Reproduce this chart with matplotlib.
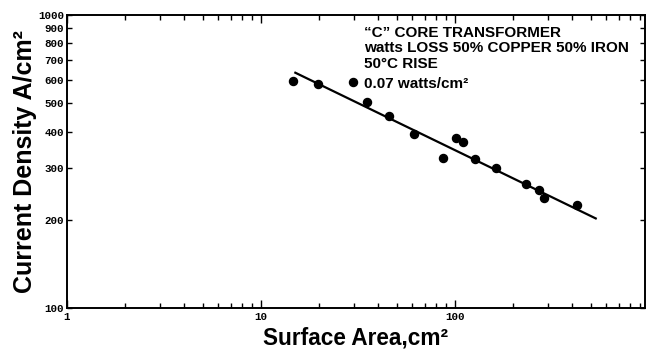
import matplotlib
matplotlib.use("Agg")
import matplotlib.pyplot as plt
from matplotlib.ticker import LogLocator, NullFormatter, NullLocator

# Data (log-log)
surface_area = [14.7, 19.7, 35.1, 45.9, 61.6, 87.0, 101, 109.6, 126.4, 163.3, 233, 272, 287, 427]
current_density = [597, 581, 503, 452, 392, 325, 379, 367, 322, 301, 264, 253, 238, 225]

fit_x = [14.85, 537.6]
fit_y = [637.5, 201.3]

x_ticks = [1, 10, 100]
x_tick_labels = ["1", "10", "100"]
y_ticks = [100, 200, 300, 400, 500, 600, 700, 800, 900, 1000]
y_tick_labels = ["100", "200", "300", "400", "500", "600", "700", "800", "900", "1000"]

header = "\u201cC\u201d CORE TRANSFORMER\nwatts LOSS 50% COPPER 50% IRON\n50\u00b0C RISE"
series_label = "0.07 watts/cm\u00b2"
x_label = "Surface Area,cm\u00b2"
y_label = "Current Density A/cm\u00b2"

plt.rcParams['font.family'] = ['Liberation Sans', 'DejaVu Sans']

fig = plt.figure(figsize=(6.52, 3.56), dpi=100)
ax = fig.add_axes([0.1028, 0.135, 0.886, 0.823])

ax.set_xscale('log')
ax.set_yscale('log')
ax.set_xlim(1, 950)
ax.set_ylim(100, 1000)

ax.plot(fit_x, fit_y, color='black', lw=1.6, solid_capstyle='butt')
pts, = ax.plot(surface_area, current_density, 'o', color='black', ms=5.8, ls='none')

ax.set_xticks(x_ticks, x_tick_labels)
ax.xaxis.set_minor_locator(LogLocator(base=10, subs=[2, 3, 4, 5, 6, 7, 8, 9]))
ax.xaxis.set_minor_formatter(NullFormatter())
ax.set_yticks(y_ticks, y_tick_labels)
ax.yaxis.set_minor_locator(NullLocator())

for lab in ax.get_xticklabels() + ax.get_yticklabels():
    lab.set_fontfamily('Liberation Mono')
    lab.set_fontweight('bold')
    lab.set_fontsize(7.8)

ax.tick_params(which='both', direction='in', top=True, right=True, width=1.0, color='black')
ax.tick_params(which='major', axis='x', length=6, pad=3)
ax.tick_params(which='minor', axis='x', length=3.5)
ax.tick_params(axis='y', length=3.5, pad=2)

for s in ax.spines.values():
    s.set_linewidth(1.4)

ax.set_xlabel(x_label, fontsize=16.3, fontweight='bold', labelpad=3)
ax.set_ylabel(y_label, fontsize=18, fontweight='bold', labelpad=1)

ax.text(0.514, 0.962, header, transform=ax.transAxes, ha='left', va='top',
        fontsize=11, fontweight='bold', linespacing=1.12)

ax.legend([pts], [series_label], loc='center left', bbox_to_anchor=(0.4843, 0.765),
          frameon=False, borderpad=0, borderaxespad=0, handlelength=0.8,
          handletextpad=0.32, prop=dict(weight='bold', size=11))

fig.savefig('out.png', dpi=100, facecolor='white')
